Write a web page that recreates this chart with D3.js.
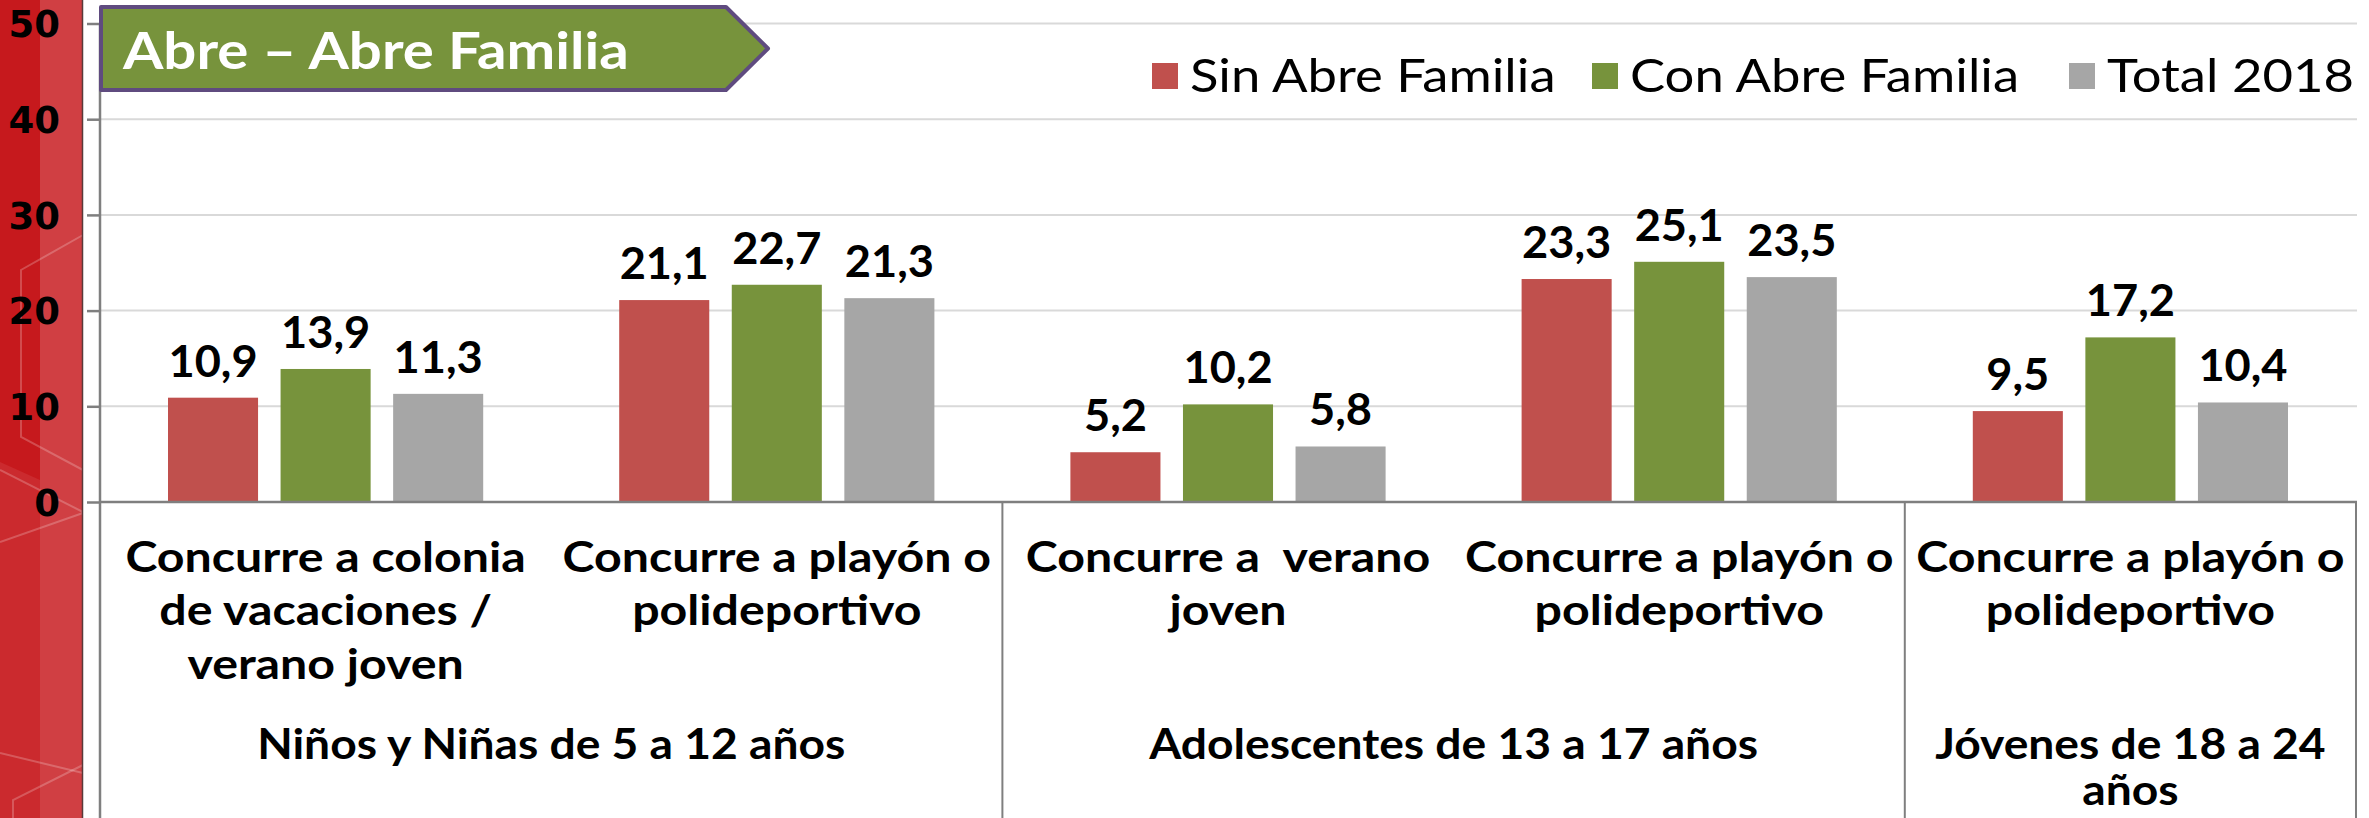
<!DOCTYPE html>
<html><head><meta charset="utf-8">
<script src="https://cdn.jsdelivr.net/npm/d3@7/dist/d3.min.js"></script>
<style>
body{margin:0;background:#fff}
svg{display:block}
text{white-space:pre}
</style>
</head><body>
<svg id="c" width="2369" height="818"></svg>
<script>
// ---- data ----
const categories = ["c1", "c2", "c3", "c4", "c5"];
const categoryLabels = [
  ["Concurre a colonia", "de vacaciones /", "verano joven"],
  ["Concurre a playón o", "polideportivo"],
  ["Concurre a  verano", "joven"],
  ["Concurre a playón o", "polideportivo"],
  ["Concurre a playón o", "polideportivo"]
];
const groupLabels = [
  ["Niños y Niñas de 5 a 12 años"],
  ["Adolescentes de 13 a 17 años"],
  ["Jóvenes de 18 a 24", "años"]
];
const groupFirst = [0, 2, 4];
const groupLast = [1, 3, 4];
const seriesNames = ["Sin Abre Familia", "Con Abre Familia", "Total 2018"];
const sinAbre = [10.9, 21.1, 5.2, 23.3, 9.5];
const conAbre = [13.9, 22.7, 10.2, 25.1, 17.2];
const total2018 = [11.3, 21.3, 5.8, 23.5, 10.4];
const yTicks = [0, 10, 20, 30, 40, 50];
const titleText = "Abre – Abre Familia";

const seriesValues = [sinAbre, conAbre, total2018];
const colors = ["#C0504D", "#77933C", "#A6A6A6"];

const svg = d3.select("#c");
const W = 2369, H = 818;
const pL = 100, pR = 2356, pT = 23.5, pB = 502;
const FONT = "Lato, 'DejaVu Sans', sans-serif";

// ---- decorative red strip ----
const deco = svg.append("g");
deco.append("rect").attr("x", 0).attr("y", 0).attr("width", 83).attr("height", H).attr("fill", "#CB2A2E");
deco.append("path").attr("d", "M0,0 L40,0 L40,480 L0,462 Z").attr("fill", "#C6191D");
deco.append("rect").attr("x", 40).attr("y", 0).attr("width", 43).attr("height", H).attr("fill", "#fff").attr("opacity", 0.1);
const decoLines = [
  "M83,235 L21,270 L21,437 L83,470",
  "M0,470 L83,512",
  "M0,542 L83,513",
  "M0,753 L83,773",
  "M13,818 L13,800 L83,765"
];
decoLines.forEach(d => deco.append("path").attr("d", d).attr("fill", "none")
  .attr("stroke", "#fff").attr("stroke-opacity", 0.22).attr("stroke-width", 2));
deco.append("line").attr("x1", 82.5).attr("x2", 82.5).attr("y1", 0).attr("y2", H)
  .attr("stroke", "#5a3a3a").attr("stroke-width", 1.5);

// ---- scales ----
const x0 = d3.scaleBand().domain(categories).range([pL, pR]).padding(0);
const bw = x0.bandwidth();
const x1 = d3.scaleBand().domain(seriesNames).range([68, bw - 68]).paddingInner(0.2).paddingOuter(0);
const y = d3.scaleLinear().domain([0, 50]).range([pB, pT]);

// ---- gridlines ----
svg.append("g").selectAll("line").data(yTicks.filter(t => t > 0)).join("line")
  .attr("x1", pL).attr("x2", pR + 1)
  .attr("y1", d => y(d)).attr("y2", d => y(d))
  .attr("stroke", "#D9D9D9").attr("stroke-width", 2);

// ---- bars ----
const fmt = v => d3.format(".1f")(v).replace(".", ",");
const barG = svg.append("g");
seriesValues.forEach((vals, si) => {
  barG.selectAll(null).data(vals).join("rect")
    .attr("x", (d, i) => x0(categories[i]) + x1(seriesNames[si]))
    .attr("y", d => y(d))
    .attr("width", x1.bandwidth())
    .attr("height", d => y(0) - y(d))
    .attr("fill", colors[si]);
  barG.selectAll(null).data(vals).join("text")
    .attr("transform", (d, i) => `translate(${x0(categories[i]) + x1(seriesNames[si]) + x1.bandwidth() / 2},${y(d) - 21}) scale(1.05,1)`)
    .attr("text-anchor", "middle")
    .attr("font-family", FONT)
    .attr("font-weight", 700)
    .attr("font-size", 43)
    .attr("fill", "#000")
    .text(d => fmt(d));
});

// ---- y axis ----
const yAxis = d3.axisLeft(y).tickValues(yTicks).tickSize(13).tickPadding(27).tickFormat(d3.format("d"));
const yg = svg.append("g").attr("transform", `translate(${pL},0)`).call(yAxis);
yg.select(".domain").remove();
yg.selectAll(".tick line").attr("stroke", "#7F7F7F").attr("stroke-width", 2.5);
yg.selectAll(".tick text").attr("font-family", "'DejaVu Sans', sans-serif").attr("font-weight", 700)
  .attr("font-size", 37).attr("fill", "#000").attr("dy", "0.36em");
svg.append("line").attr("x1", pL).attr("x2", pL).attr("y1", pT).attr("y2", H)
  .attr("stroke", "#7F7F7F").attr("stroke-width", 2.5);

// ---- x axis ----
svg.append("line").attr("x1", pL).attr("x2", pR + 1).attr("y1", y(0)).attr("y2", y(0))
  .attr("stroke", "#7F7F7F").attr("stroke-width", 2.5);
const dividers = groupLast.map(i => x0(categories[i]) + bw);
svg.append("g").selectAll("line").data(dividers).join("line")
  .attr("x1", d => d).attr("x2", d => d).attr("y1", y(0)).attr("y2", H)
  .attr("stroke", "#7F7F7F").attr("stroke-width", 2);

const catG = svg.append("g");
categoryLabels.forEach((lines, i) => {
  const t = catG.append("text")
    .attr("transform", `translate(${x0(categories[i]) + bw / 2},0) scale(1.15,1)`)
    .attr("text-anchor", "middle")
    .attr("font-family", FONT)
    .attr("font-weight", 700).attr("font-size", 42).attr("fill", "#000");
  lines.forEach((l, k) => t.append("tspan").attr("x", 0).attr("y", 572 + k * 53.5).text(l));
});
groupLabels.forEach((lines, gi) => {
  const cx = (x0(categories[groupFirst[gi]]) + x0(categories[groupLast[gi]]) + bw) / 2;
  const t = catG.append("text")
    .attr("transform", `translate(${cx},0) scale(1.1,1)`)
    .attr("text-anchor", "middle")
    .attr("font-family", FONT)
    .attr("font-weight", 700).attr("font-size", 42).attr("fill", "#000");
  lines.forEach((l, k) => t.append("tspan").attr("x", 0).attr("y", 759 + k * 46).text(l));
});

// ---- title box ----
const tg = svg.append("g");
tg.append("path").attr("d", "M101,7 L726,7 L768,48.5 L726,90 L101,90 Z")
  .attr("fill", "#77933C").attr("stroke", "#5F4B7F").attr("stroke-width", 4).attr("stroke-linejoin", "round");
tg.append("text").attr("transform", "translate(123,69) scale(1.12,1)")
  .attr("font-family", FONT).attr("font-weight", 700)
  .attr("font-size", 52).attr("fill", "#fff").text(titleText);

// ---- legend ----
const legendX = [1152, 1592, 2069];
const lg = svg.append("g");
seriesNames.forEach((s, i) => {
  lg.append("rect").attr("x", legendX[i]).attr("y", 63).attr("width", 26).attr("height", 26).attr("fill", colors[i]);
  lg.append("text").attr("transform", `translate(${legendX[i] + 38},92) scale(1.12,1)`)
    .attr("font-family", FONT).attr("font-weight", 400)
    .attr("font-size", 47).attr("fill", "#000").text(s);
});
</script>
</body></html>
